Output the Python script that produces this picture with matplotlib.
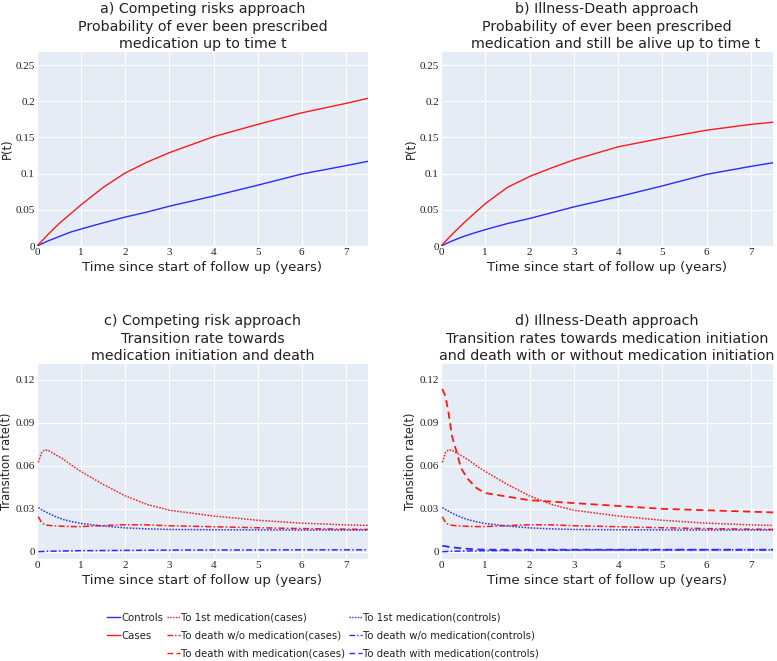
import matplotlib.pyplot as plt
from matplotlib.lines import Line2D

# cumulative probabilities (panels a, b)
t_prob = [0, 0.25, 0.5, 0.75, 1, 1.5, 2, 2.5, 3, 4, 5, 6, 7, 7.5]
a_cases = [0, 0.016, 0.031, 0.044, 0.057, 0.081, 0.101, 0.116, 0.129, 0.151, 0.168, 0.184, 0.197, 0.204]
a_controls = [0, 0.007, 0.013, 0.019, 0.0235, 0.032, 0.040, 0.047, 0.055, 0.069, 0.084, 0.0995, 0.111, 0.117]
b_cases = [0, 0.016, 0.031, 0.045, 0.0585, 0.081, 0.096, 0.108, 0.119, 0.137, 0.149, 0.160, 0.168, 0.171]
b_controls = [0, 0.007, 0.013, 0.018, 0.0226, 0.031, 0.038, 0.046, 0.054, 0.068, 0.083, 0.099, 0.110, 0.115]

# transition rates (panels c, d)
t_rate = [0.03, 0.1, 0.17, 0.25, 0.35, 0.45, 0.6, 0.8, 1, 1.5, 2, 2.5, 3, 4, 5, 6, 7, 7.5]
med_cases = [0.0625, 0.069, 0.0712, 0.0708, 0.069, 0.0672, 0.0645, 0.060, 0.056, 0.047, 0.039, 0.033, 0.029, 0.025, 0.022, 0.020, 0.0188, 0.0184]
death_wo_cases = [0.0245, 0.0205, 0.019, 0.0185, 0.0182, 0.018, 0.0178, 0.0176, 0.0176, 0.0183, 0.0189, 0.0188, 0.0182, 0.0175, 0.0168, 0.0162, 0.0158, 0.0156]
death_with_cases = [0.1135, 0.1085, 0.097, 0.0804, 0.070, 0.0585, 0.051, 0.0445, 0.041, 0.0385, 0.036, 0.035, 0.034, 0.032, 0.030, 0.029, 0.028, 0.0275]
med_controls = [0.0308, 0.0295, 0.0283, 0.027, 0.0255, 0.0242, 0.0225, 0.021, 0.0198, 0.018, 0.0167, 0.016, 0.0156, 0.0154, 0.0153, 0.0152, 0.0152, 0.0152]
death_wo_controls = [0.0001, 0.0002, 0.0003, 0.0004, 0.0005, 0.0005, 0.0006, 0.0007, 0.0008, 0.0009, 0.0010, 0.0011, 0.0012, 0.0013, 0.0013, 0.0014, 0.0014, 0.0014]
death_with_controls = [0.0042, 0.0039, 0.0035, 0.0031, 0.0028, 0.0025, 0.0021, 0.0017, 0.0015, 0.0015, 0.0015, 0.0015, 0.0015, 0.0015, 0.0015, 0.0015, 0.0015, 0.0015]

titles = ['a) Competing risks approach\nProbability of ever been prescribed\nmedication up to time t',
          'b) Illness-Death approach\nProbability of ever been prescribed\n    medication and still be alive up to time t',
          'c) Competing risk approach\nTransition rate towards\nmedication initiation and death',
          'd) Illness-Death approach\nTransition rates towards medication initiation\nand death with or without medication initiation']

RED = '#ff1a1a'
BLUE = '#2b2bff'
DOT = (0, (1, 1))
DASHDOT = (0, (4, 1.5, 1, 1.5))
DASH = (0, (4, 2.5))

W, H = 777, 661
fig = plt.figure(figsize=(W / 100, H / 100), dpi=100)


def make_ax(left, top, right, bottom):
    return fig.add_axes([left / W, 1 - bottom / H, (right - left) / W, (bottom - top) / H])


def style(ax, title, ylabel, yticks, ylabels, ylim):
    ax.set_facecolor('#e5ecf6')
    for s in ax.spines.values():
        s.set_visible(False)
    ax.set_xlim(0, 7.5)
    ax.set_ylim(*ylim)
    ax.set_xticks(range(8))
    ax.set_yticks(yticks)
    ax.set_yticklabels(ylabels)
    ax.tick_params(length=0, pad=1.5, labelsize=8, colors='#222222')
    for lab in ax.get_xticklabels() + ax.get_yticklabels():
        lab.set_family('Liberation Serif')
    ax.grid(color='white', linewidth=0.8)
    ax.set_axisbelow(True)
    ax.set_xlabel('Time since start of follow up (years)', fontsize=9.5, labelpad=3, color='#222222')
    ax.set_ylabel(ylabel, fontsize=8.4, labelpad=1.5, color='#222222')
    ax.set_title(title, fontsize=10.3, linespacing=1.3, pad=3, color='#222222')


ax_a = make_ax(37, 52, 368, 246)
ax_b = make_ax(441, 52, 773, 246)
ax_c = make_ax(37, 364, 368, 559)
ax_d = make_ax(441, 364, 773, 559)

top_ticks = [0, 0.05, 0.1, 0.15, 0.2, 0.25]
top_labels = ['0', '0.05', '0.1', '0.15', '0.2', '0.25']
bot_ticks = [0, 0.03, 0.06, 0.09, 0.12]
bot_labels = ['0', '0.03', '0.06', '0.09', '0.12']

for ax, cases, controls, title in [(ax_a, a_cases, a_controls, titles[0]),
                                   (ax_b, b_cases, b_controls, titles[1])]:
    ax.plot(t_prob, controls, color=BLUE, lw=1)
    ax.plot(t_prob, cases, color=RED, lw=1)
    style(ax, title, 'P(t)', top_ticks, top_labels, (0, 0.268))

for ax, title, full in [(ax_c, titles[2], False), (ax_d, titles[3], True)]:
    ax.plot(t_rate, med_cases, color=RED, lw=1.1, ls=DOT)
    ax.plot(t_rate, death_wo_cases, color=RED, lw=1.1, ls=DASHDOT)
    if full:
        ax.plot(t_rate, death_with_cases, color=RED, lw=1.3, ls=DASH)
    ax.plot(t_rate, med_controls, color=BLUE, lw=1.1, ls=DOT)
    ax.plot(t_rate, death_wo_controls, color=BLUE, lw=1.1, ls=DASHDOT)
    if full:
        ax.plot(t_rate, death_with_controls, color=BLUE, lw=1.3, ls=DASH)
    style(ax, title, 'Transition rate(t)', bot_ticks, bot_labels, (-0.005, 0.131))

handles = [
    Line2D([], [], color=BLUE, lw=1),
    Line2D([], [], color=RED, lw=1),
    Line2D([], [], color='none'),
    Line2D([], [], color=RED, lw=1, ls=DOT),
    Line2D([], [], color=RED, lw=1, ls=DASHDOT),
    Line2D([], [], color=RED, lw=1, ls=DASH),
    Line2D([], [], color=BLUE, lw=1, ls=DOT),
    Line2D([], [], color=BLUE, lw=1, ls=DASHDOT),
    Line2D([], [], color=BLUE, lw=1, ls=DASH),
]
labels = ['Controls', 'Cases', '',
          'To 1st medication(cases)', 'To death w/o medication(cases)', 'To death with medication(cases)',
          'To 1st medication(controls)', 'To death w/o medication(controls)', 'To death with medication(controls)']
fig.legend(handles, labels, ncol=3, loc='upper left', bbox_to_anchor=(107 / W, 1 - 613 / H),
           frameon=False, borderpad=0, borderaxespad=0, fontsize=7.3, handlelength=1.3,
           handletextpad=0.15, columnspacing=0.3, labelspacing=0.75, labelcolor='#222222')

fig.savefig('out.png', dpi=100)
